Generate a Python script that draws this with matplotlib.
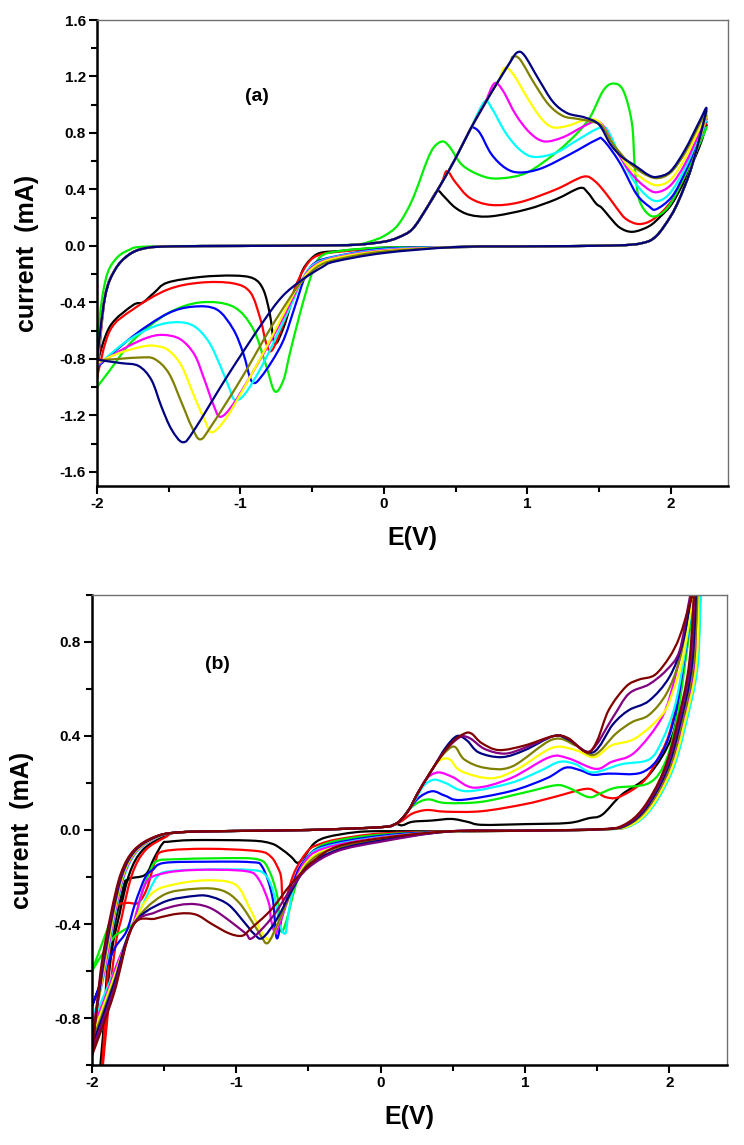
import matplotlib
matplotlib.use('Agg')
import matplotlib.pyplot as plt
from matplotlib.ticker import MultipleLocator, FormatStrFormatter
from matplotlib.path import Path
from matplotlib.patches import PathPatch

plt.rcParams['font.family'] = ['Liberation Sans', 'DejaVu Sans']
plt.rcParams['font.weight'] = 'bold'
plt.rcParams['axes.unicode_minus'] = False

# ---------------- panel (a) data : E (V), current (mA) ----------------
A_FWD_NEG = [(-1.944, -0.36), (-1.875, -0.17), (-1.78, -0.064), (-1.665, -0.016),
             (-1.48, -0.003), (-1.0, 0.0), (-0.5, 0.003), (-0.2, 0.008)]
A_GREEN_FWD_NEG = [(-1.99, -0.59), (-1.94, -0.24), (-1.875, -0.1), (-1.78, -0.03),
                   (-1.64, -0.004), (-1.0, 0.0), (-0.5, 0.003)]
A_RISE = [(0.0, 0.03), (0.1, 0.06), (0.2, 0.12), (0.3, 0.27), (0.4, 0.44), (0.5, 0.62),
          (0.6, 0.82), (0.7, 1.0), (0.8, 1.17), (0.88, 1.3)]
A_REV_POS = [(2.18, 0.68), (2.13, 0.51), (2.06, 0.33), (2.0, 0.21), (1.9, 0.07),
             (1.8, 0.02), (1.6, 0.003), (1.0, -0.003), (0.5, -0.008)]

A_BLACK_POS = [(0.35, 0.36), (0.38, 0.39), (0.42, 0.35), (0.5, 0.27), (0.6, 0.22), (0.75, 0.21),
               (1.0, 0.26), (1.2, 0.33), (1.366, 0.41), (1.42, 0.38), (1.48, 0.30), (1.52, 0.27),
               (1.57, 0.21), (1.645, 0.13), (1.735, 0.10), (1.85, 0.14), (1.93, 0.21),
               (2.01, 0.30), (2.1, 0.47), (2.2, 0.70), (2.25, 0.86)]
A_BLACK_NEG = [(0.0, -0.012), (-0.3, -0.035), (-0.446, -0.05), (-0.516, -0.1), (-0.565, -0.17),
               (-0.6, -0.27), (-0.65, -0.42), (-0.7, -0.58), (-0.76, -0.69), (-0.795, -0.48),
               (-0.84, -0.31), (-0.91, -0.23), (-1.05, -0.21), (-1.28, -0.22), (-1.51, -0.26),
               (-1.6, -0.33), (-1.68, -0.40), (-1.75, -0.42), (-1.91, -0.57), (-2.0, -0.83)]

A_RED_POS = [(0.44, 0.53), (0.5, 0.45), (0.6, 0.34), (0.75, 0.29), (0.95, 0.31), (1.2, 0.40),
             (1.39, 0.49), (1.47, 0.46), (1.55, 0.37), (1.63, 0.26), (1.69, 0.19), (1.78, 0.155),
             (1.88, 0.19), (2.0, 0.31), (2.1, 0.5), (2.2, 0.75), (2.25, 0.88)]
A_RED_NEG = [(0.0, -0.015), (-0.3, -0.04), (-0.42, -0.055), (-0.5, -0.09), (-0.56, -0.17),
             (-0.62, -0.3), (-0.7, -0.55), (-0.78, -0.74), (-0.82, -0.69), (-0.86, -0.52),
             (-0.93, -0.33), (-1.05, -0.265), (-1.28, -0.26), (-1.51, -0.31), (-1.75, -0.45),
             (-1.91, -0.6), (-2.0, -0.93)]

A_GREEN_POS = [(-0.2, 0.01), (-0.1, 0.03), (0.0, 0.07), (0.1, 0.15), (0.2, 0.33), (0.3, 0.6),
               (0.35, 0.7), (0.41, 0.74), (0.46, 0.7), (0.55, 0.57), (0.7, 0.49), (0.83, 0.48),
               (1.0, 0.52), (1.2, 0.66), (1.35, 0.8), (1.44, 0.915), (1.53, 1.1), (1.6, 1.15),
               (1.67, 1.1), (1.73, 0.87), (1.75, 0.56), (1.78, 0.33), (1.85, 0.22),
               (1.92, 0.22), (2.0, 0.3), (2.1, 0.5), (2.2, 0.72), (2.25, 0.84)]
A_GREEN_NEG = [(0.0, -0.012), (-0.3, -0.035), (-0.446, -0.08), (-0.516, -0.24), (-0.585, -0.48),
               (-0.655, -0.76), (-0.70, -0.95), (-0.76, -1.03), (-0.82, -0.85), (-0.91, -0.59),
               (-1.05, -0.43), (-1.28, -0.40), (-1.51, -0.48), (-1.75, -0.67), (-1.91, -0.88),
               (-2.0, -1.0)]

A_BLUE_POS = [(0.62, 0.84), (0.67, 0.8), (0.75, 0.65), (0.85, 0.55), (0.95, 0.52), (1.1, 0.55),
              (1.3, 0.65), (1.48, 0.75), (1.53, 0.75), (1.645, 0.59), (1.76, 0.37), (1.85, 0.28),
              (1.9, 0.26), (2.01, 0.35), (2.1, 0.52), (2.2, 0.76), (2.25, 0.9)]
A_BLUE_NEG = [(0.0, -0.02), (-0.34, -0.075), (-0.48, -0.12), (-0.55, -0.22), (-0.62, -0.43),
              (-0.71, -0.69), (-0.85, -0.92), (-0.92, -0.96), (-0.98, -0.76), (-1.05, -0.59),
              (-1.165, -0.45), (-1.33, -0.43), (-1.51, -0.48), (-1.75, -0.64), (-2.0, -0.86)]

A_CYAN_POS = [(0.7, 1.02), (0.75, 0.98), (0.85, 0.8), (0.95, 0.68), (1.05, 0.63), (1.2, 0.66),
              (1.35, 0.75), (1.5, 0.835), (1.56, 0.82), (1.65, 0.63), (1.75, 0.45), (1.85, 0.34),
              (1.92, 0.32), (2.0, 0.38), (2.1, 0.55), (2.2, 0.78), (2.25, 0.9)]
A_CYAN_NEG = [(0.0, -0.025), (-0.35, -0.08), (-0.5, -0.14), (-0.57, -0.24), (-0.63, -0.38),
              (-0.72, -0.58), (-0.85, -0.85), (-0.97, -1.05), (-1.04, -1.09), (-1.08, -1.0),
              (-1.14, -0.85), (-1.22, -0.68), (-1.32, -0.57), (-1.44, -0.54), (-1.6, -0.57),
              (-1.8, -0.68), (-2.0, -0.85)]

A_MAGENTA_POS = [(0.77, 1.15), (0.83, 1.1), (0.92, 0.93), (1.02, 0.8), (1.12, 0.74), (1.25, 0.77),
                 (1.38, 0.84), (1.47, 0.88), (1.53, 0.85), (1.62, 0.68), (1.72, 0.52), (1.82, 0.42),
                 (1.9, 0.38), (2.0, 0.43), (2.1, 0.58), (2.2, 0.8), (2.25, 0.92)]
A_MAGENTA_NEG = [(0.0, -0.03), (-0.35, -0.085), (-0.5, -0.15), (-0.58, -0.26), (-0.65, -0.4),
                 (-0.75, -0.6), (-0.9, -0.87), (-1.05, -1.12), (-1.14, -1.21), (-1.19, -1.12),
                 (-1.25, -0.95), (-1.32, -0.77), (-1.42, -0.66), (-1.54, -0.63), (-1.65, -0.65),
                 (-1.8, -0.72), (-2.0, -0.84)]

A_YELLOW_POS = [(0.84, 1.26), (0.9, 1.22), (1.0, 1.05), (1.1, 0.9), (1.18, 0.84), (1.28, 0.85),
                (1.4, 0.89), (1.5, 0.88), (1.6, 0.72), (1.7, 0.57), (1.8, 0.48), (1.9, 0.43),
                (2.0, 0.47), (2.1, 0.62), (2.2, 0.83), (2.25, 0.93)]
A_YELLOW_NEG = [(0.0, -0.035), (-0.35, -0.09), (-0.5, -0.16), (-0.6, -0.29), (-0.68, -0.44),
                (-0.8, -0.68), (-0.95, -0.96), (-1.1, -1.22), (-1.2, -1.32), (-1.25, -1.23),
                (-1.32, -1.07), (-1.41, -0.85), (-1.5, -0.74), (-1.58, -0.71), (-1.67, -0.71),
                (-1.85, -0.76), (-2.0, -0.83)]

A_OLIVE_POS = [(0.9, 1.34), (0.95, 1.32), (1.05, 1.15), (1.15, 1.0), (1.25, 0.92), (1.35, 0.9),
               (1.45, 0.88), (1.52, 0.85), (1.6, 0.72), (1.7, 0.6), (1.8, 0.52), (1.9, 0.48),
               (2.0, 0.52), (2.1, 0.66), (2.2, 0.86), (2.25, 0.95)]
A_OLIVE_NEG = [(0.0, -0.04), (-0.3, -0.09), (-0.45, -0.14), (-0.57, -0.25), (-0.65, -0.36),
               (-0.8, -0.6), (-1.0, -0.95), (-1.2, -1.27), (-1.28, -1.37), (-1.34, -1.28),
               (-1.41, -1.11), (-1.5, -0.9), (-1.6, -0.8), (-1.7, -0.79), (-1.85, -0.8),
               (-2.0, -0.81)]

A_NAVY_POS = [(0.93, 1.37), (0.98, 1.35), (1.08, 1.18), (1.18, 1.02), (1.28, 0.94), (1.4, 0.91),
              (1.5, 0.86), (1.58, 0.72), (1.66, 0.63), (1.75, 0.57), (1.85, 0.5), (1.91, 0.49),
              (2.0, 0.53), (2.1, 0.68), (2.2, 0.88), (2.25, 0.97)]
A_NAVY_NEG = [(0.0, -0.05), (-0.34, -0.11), (-0.43, -0.15), (-0.57, -0.24), (-0.71, -0.36),
              (-0.85, -0.55), (-1.09, -0.92), (-1.32, -1.30), (-1.40, -1.39), (-1.48, -1.30),
              (-1.55, -1.14), (-1.62, -0.95), (-1.71, -0.85), (-1.83, -0.83), (-1.97, -0.81),
              (-2.0, -0.8)]

A_COLORS = ['#000000', '#ff0000', '#00ee00', '#0000ff', '#00ffff', '#ff00ff',
            '#ffff00', '#808000', '#000080']
A_FWD = [A_FWD_NEG, A_FWD_NEG, A_GREEN_FWD_NEG, A_FWD_NEG, A_FWD_NEG, A_FWD_NEG,
         A_FWD_NEG, A_FWD_NEG, A_FWD_NEG]
A_POS = [A_BLACK_POS, A_RED_POS, A_GREEN_POS, A_BLUE_POS, A_CYAN_POS, A_MAGENTA_POS,
         A_YELLOW_POS, A_OLIVE_POS, A_NAVY_POS]
A_NEG = [A_BLACK_NEG, A_RED_NEG, A_GREEN_NEG, A_BLUE_NEG, A_CYAN_NEG, A_MAGENTA_NEG,
         A_YELLOW_NEG, A_OLIVE_NEG, A_NAVY_NEG]

# ---------------- panel (b) data ----------------
B_FWD_NEG = [(-1.93, -0.6), (-1.86, -0.36), (-1.79, -0.185), (-1.7, -0.086), (-1.56, -0.03),
             (-1.4, -0.01), (-1.0, -0.004), (-0.5, 0.0), (0.0, 0.012), (0.1, 0.025)]
B_REV_POS = [(2.18, 0.72), (2.09, 0.44), (2.0, 0.25), (1.86, 0.094), (1.72, 0.02),
             (1.55, 0.003), (1.0, -0.003), (0.5, -0.006)]

B_BLACK_POS = [(0.15, 0.02), (0.22, 0.035), (0.35, 0.04), (0.49, 0.047), (0.6, 0.035), (0.7, 0.022),
               (1.0, 0.025), (1.3, 0.03), (1.44, 0.05), (1.535, 0.065), (1.67, 0.15), (1.86, 0.235),
               (2.02, 0.4), (2.08, 0.6), (2.13, 0.85), (2.16, 1.02), (2.2, 1.15)]
B_BLACK_NEG = [(0.0, -0.005), (-0.18, -0.01), (-0.37, -0.03), (-0.46, -0.057), (-0.53, -0.114),
               (-0.575, -0.14), (-0.62, -0.114), (-0.69, -0.08), (-0.76, -0.057), (-0.9, -0.045),
               (-1.3, -0.043), (-1.47, -0.05), (-1.51, -0.057), (-1.57, -0.12), (-1.63, -0.19),
               (-1.75, -0.21), (-1.79, -0.26), (-1.89, -0.57), (-1.93, -1.0), (-2.0, -1.4)]

B_RED_POS = [(0.15, 0.04), (0.22, 0.07), (0.32, 0.085), (0.45, 0.078), (0.7, 0.08), (1.0, 0.11),
             (1.2, 0.14), (1.42, 0.175), (1.5, 0.16), (1.56, 0.14), (1.65, 0.14), (1.81, 0.2),
             (1.9, 0.28), (2.0, 0.41), (2.08, 0.63), (2.14, 0.86), (2.18, 1.02), (2.21, 1.15)]
B_RED_NEG = [(0.0, -0.015), (-0.3, -0.04), (-0.42, -0.06), (-0.5, -0.086), (-0.59, -0.17),
             (-0.64, -0.26), (-0.66, -0.32), (-0.68, -0.29), (-0.69, -0.2), (-0.715, -0.157),
             (-0.76, -0.114), (-0.85, -0.09), (-1.2, -0.08), (-1.5, -0.09), (-1.56, -0.13),
             (-1.62, -0.25), (-1.68, -0.31), (-1.75, -0.31), (-1.82, -0.32), (-1.86, -0.38),
             (-1.89, -0.6), (-1.93, -1.0), (-2.0, -1.5)]

B_GREEN_POS = [(0.15, 0.05), (0.2, 0.09), (0.27, 0.12), (0.34, 0.13), (0.45, 0.115), (0.7, 0.12),
               (1.0, 0.16), (1.21, 0.19), (1.3, 0.18), (1.44, 0.14), (1.52, 0.155), (1.63, 0.18),
               (1.86, 0.2), (1.98, 0.3), (2.06, 0.5), (2.13, 0.8), (2.18, 1.02), (2.22, 1.15)]
B_GREEN_NEG = [(0.0, -0.02), (-0.3, -0.045), (-0.45, -0.08), (-0.54, -0.15), (-0.6, -0.26),
               (-0.65, -0.38), (-0.69, -0.43), (-0.715, -0.285), (-0.775, -0.17), (-0.85, -0.125),
               (-1.1, -0.12), (-1.45, -0.125), (-1.54, -0.13), (-1.585, -0.157), (-1.65, -0.26),
               (-1.71, -0.39), (-1.79, -0.43), (-1.84, -0.45), (-1.91, -0.51), (-2.0, -0.6)]

B_BLUE_POS = [(0.15, 0.05), (0.2, 0.09), (0.27, 0.14), (0.36, 0.165), (0.45, 0.145), (0.56, 0.128),
              (0.9, 0.165), (1.15, 0.22), (1.28, 0.265), (1.38, 0.255), (1.47, 0.235), (1.58, 0.24),
              (1.81, 0.245), (1.95, 0.33), (2.04, 0.49), (2.11, 0.75), (2.17, 1.02), (2.21, 1.15)]
B_BLUE_NEG = [(0.0, -0.025), (-0.4, -0.07), (-0.54, -0.14), (-0.61, -0.23), (-0.68, -0.36),
              (-0.72, -0.46), (-0.75, -0.285), (-0.82, -0.157), (-0.9, -0.137), (-1.2, -0.135),
              (-1.5, -0.14), (-1.58, -0.17), (-1.63, -0.2), (-1.7, -0.31), (-1.76, -0.43),
              (-1.84, -0.5), (-1.91, -0.6), (-2.0, -0.75)]

B_CYAN_POS = [(0.15, 0.05), (0.2, 0.09), (0.26, 0.15), (0.3, 0.19), (0.37, 0.214), (0.45, 0.2),
              (0.6, 0.165), (0.9, 0.2), (1.1, 0.25), (1.24, 0.29), (1.35, 0.28), (1.47, 0.245),
              (1.67, 0.28), (1.86, 0.3), (1.95, 0.38), (2.04, 0.53), (2.11, 0.76), (2.17, 1.02),
              (2.21, 1.15)]
B_CYAN_NEG = [(0.0, -0.03), (-0.4, -0.075), (-0.52, -0.13), (-0.6, -0.24), (-0.64, -0.36),
              (-0.66, -0.44), (-0.7, -0.4), (-0.74, -0.27), (-0.8, -0.19), (-0.9, -0.17),
              (-1.2, -0.168), (-1.45, -0.175), (-1.55, -0.2), (-1.65, -0.32), (-1.73, -0.42),
              (-1.8, -0.53), (-1.9, -0.68), (-2.0, -0.82)]

B_MAGENTA_POS = [(0.15, 0.05), (0.2, 0.09), (0.26, 0.16), (0.32, 0.22), (0.4, 0.245), (0.5, 0.225),
                 (0.65, 0.18), (0.9, 0.22), (1.17, 0.31), (1.3, 0.305), (1.49, 0.26), (1.6, 0.29),
                 (1.76, 0.33), (1.95, 0.48), (2.04, 0.65), (2.11, 0.85), (2.16, 1.02), (2.2, 1.15)]
B_MAGENTA_NEG = [(0.0, -0.032), (-0.4, -0.08), (-0.53, -0.14), (-0.62, -0.26), (-0.7, -0.4),
                 (-0.73, -0.44), (-0.76, -0.38), (-0.775, -0.31), (-0.845, -0.21), (-0.935, -0.175),
                 (-1.28, -0.17), (-1.515, -0.186), (-1.63, -0.23), (-1.72, -0.41), (-1.82, -0.56),
                 (-1.9, -0.7), (-2.0, -0.85)]

B_YELLOW_POS = [(0.15, 0.05), (0.2, 0.09), (0.26, 0.16), (0.32, 0.22), (0.37, 0.27), (0.42, 0.3),
                (0.48, 0.3), (0.56, 0.25), (0.77, 0.22), (0.95, 0.26), (1.19, 0.35), (1.35, 0.34),
                (1.48, 0.31), (1.6, 0.36), (1.765, 0.39), (1.95, 0.49), (2.02, 0.58), (2.09, 0.72),
                (2.14, 0.9), (2.17, 1.02), (2.2, 1.15)]
B_YELLOW_NEG = [(0.0, -0.035), (-0.35, -0.08), (-0.5, -0.13), (-0.6, -0.23), (-0.72, -0.41),
                (-0.77, -0.465), (-0.82, -0.44), (-0.87, -0.38), (-0.91, -0.33), (-1.0, -0.235),
                (-1.17, -0.214), (-1.4, -0.228), (-1.585, -0.27), (-1.72, -0.41), (-1.85, -0.63),
                (-2.0, -0.88)]

B_OLIVE_POS = [(0.15, 0.05), (0.2, 0.09), (0.26, 0.16), (0.32, 0.22), (0.37, 0.27), (0.43, 0.32),
               (0.51, 0.355), (0.58, 0.3), (0.72, 0.265), (0.91, 0.27), (1.19, 0.385), (1.35, 0.36),
               (1.48, 0.32), (1.63, 0.41), (1.745, 0.46), (1.86, 0.49), (1.98, 0.58), (2.07, 0.72),
               (2.12, 0.88), (2.16, 1.02), (2.2, 1.15)]
B_OLIVE_NEG = [(0.0, -0.04), (-0.35, -0.085), (-0.5, -0.14), (-0.6, -0.24), (-0.7, -0.38),
               (-0.78, -0.48), (-0.83, -0.45), (-0.87, -0.41), (-0.98, -0.31), (-1.1, -0.257),
               (-1.28, -0.25), (-1.515, -0.28), (-1.72, -0.41), (-1.85, -0.65), (-2.0, -0.9)]

B_NAVY_POS = [(0.15, 0.05), (0.2, 0.09), (0.26, 0.16), (0.32, 0.22), (0.37, 0.27), (0.45, 0.35),
              (0.53, 0.4), (0.6, 0.38), (0.68, 0.33), (0.84, 0.31), (1.0, 0.34), (1.2, 0.4),
              (1.3, 0.385), (1.47, 0.33), (1.61, 0.45), (1.72, 0.51), (1.86, 0.55), (2.0, 0.65),
              (2.09, 0.79), (2.14, 0.95), (2.16, 1.02), (2.19, 1.15)]
B_NAVY_NEG = [(0.0, -0.045), (-0.3, -0.085), (-0.5, -0.15), (-0.6, -0.24), (-0.72, -0.38),
              (-0.82, -0.46), (-0.88, -0.44), (-0.935, -0.40), (-1.05, -0.32), (-1.17, -0.285),
              (-1.28, -0.28), (-1.515, -0.31), (-1.72, -0.41), (-1.85, -0.66), (-2.0, -0.92)]

B_PURPLE_POS = [(0.15, 0.05), (0.2, 0.09), (0.26, 0.16), (0.32, 0.22), (0.37, 0.27), (0.45, 0.34),
                (0.55, 0.395), (0.62, 0.39), (0.72, 0.345), (0.86, 0.325), (1.0, 0.35), (1.2, 0.4),
                (1.3, 0.39), (1.45, 0.335), (1.61, 0.48), (1.72, 0.58), (1.86, 0.62), (1.98, 0.68),
                (2.07, 0.76), (2.13, 0.95), (2.15, 1.02), (2.18, 1.15)]
B_PURPLE_NEG = [(0.0, -0.05), (-0.3, -0.09), (-0.5, -0.16), (-0.62, -0.25), (-0.75, -0.37),
                (-0.89, -0.46), (-0.935, -0.44), (-1.05, -0.385), (-1.17, -0.335), (-1.28, -0.316),
                (-1.4, -0.32), (-1.56, -0.35), (-1.72, -0.41), (-1.85, -0.68), (-2.0, -0.94)]

B_MAROON_POS = [(0.15, 0.05), (0.2, 0.09), (0.26, 0.16), (0.37, 0.27), (0.49, 0.37), (0.58, 0.41),
                (0.63, 0.41), (0.7, 0.37), (0.82, 0.34), (1.0, 0.36), (1.2, 0.4), (1.3, 0.39),
                (1.43, 0.33), (1.5, 0.38), (1.58, 0.51), (1.7, 0.61), (1.79, 0.64), (1.9, 0.66),
                (2.0, 0.735), (2.07, 0.82), (2.14, 0.96), (2.16, 1.02), (2.18, 1.15)]
B_MAROON_NEG = [(0.0, -0.035), (-0.3, -0.07), (-0.46, -0.13), (-0.62, -0.23), (-0.76, -0.34),
                (-0.9, -0.42), (-0.96, -0.45), (-1.05, -0.44), (-1.17, -0.40), (-1.28, -0.36),
                (-1.40, -0.356), (-1.56, -0.377), (-1.72, -0.41), (-1.85, -0.7), (-2.0, -0.96)]

B_COLORS = ['#000000', '#ff0000', '#00ee00', '#0000ff', '#00ffff', '#ff00ff',
            '#ffff00', '#808000', '#000080', '#800080', '#800000']
B_POS = [B_BLACK_POS, B_RED_POS, B_GREEN_POS, B_BLUE_POS, B_CYAN_POS, B_MAGENTA_POS,
         B_YELLOW_POS, B_OLIVE_POS, B_NAVY_POS, B_PURPLE_POS, B_MAROON_POS]
B_NEG = [B_BLACK_NEG, B_RED_NEG, B_GREEN_NEG, B_BLUE_NEG, B_CYAN_NEG, B_MAGENTA_NEG,
         B_YELLOW_NEG, B_OLIVE_NEG, B_NAVY_NEG, B_PURPLE_NEG, B_MAROON_NEG]
# potential offsets (V) of each trace's steep solvent-limit branches, read from the fans
B_REV_SHIFT = [-0.01, 0.0, 0.015, 0.0, 0.02, 0.005, 0.01, -0.01, -0.02, -0.03, -0.04]
B_FWD_SHIFT = [0.05, 0.07, 0.0, 0.015, 0.02, 0.015, 0.01, 0.005, 0.0, -0.005, -0.01]

# ---------------- figure ----------------
fig = plt.figure(figsize=(7.44, 11.45), dpi=100)
axA = fig.add_axes([97 / 744, 1 - 486 / 1145, (728 - 97) / 744, (486 - 20) / 1145])
axB = fig.add_axes([92 / 744, 1 - 1065 / 1145, (727 - 92) / 744, (1065 - 595) / 1145])

LW = 1.6


def loop_a(fwd, pos, neg):
    start = neg[-1]
    rise = [p for p in A_RISE if p[0] < pos[0][0]]
    return [start] + fwd + rise + pos + A_REV_POS + neg


def loop_b(pos, neg, rshift, fshift):
    start = neg[-1]
    fwd = [(e + fshift if e < -1.4 else e, i) for e, i in B_FWD_NEG if i > start[1] + 0.1]
    rev = [(e + rshift, i) for e, i in B_REV_POS]
    return [start] + fwd + pos + rev + neg


def draw_smooth(ax, pts, color):
    """Draw a curve through the read points using cubic Bezier segments
    (Catmull-Rom tangents) so that the trace renders smoothly, like the original."""
    n = len(pts)
    verts = [pts[0]]
    codes = [Path.MOVETO]
    for k in range(n - 1):
        p0 = pts[k - 1] if k > 0 else pts[k]
        p1 = pts[k]
        p2 = pts[k + 1]
        p3 = pts[k + 2] if k + 2 < n else pts[k + 1]
        c1 = (p1[0] + (p2[0] - p0[0]) / 6.0, p1[1] + (p2[1] - p0[1]) / 6.0)
        c2 = (p2[0] - (p3[0] - p1[0]) / 6.0, p2[1] - (p3[1] - p1[1]) / 6.0)
        verts += [c1, c2, p2]
        codes += [Path.CURVE4, Path.CURVE4, Path.CURVE4]
    patch = PathPatch(Path(verts, codes), facecolor='none', edgecolor=color, lw=LW,
                      joinstyle='round', capstyle='round')
    ax.add_patch(patch)


for c, f, p, n in zip(A_COLORS, A_FWD, A_POS, A_NEG):
    draw_smooth(axA, loop_a(f, p, n), c)

for c, p, n, rs, fs in zip(B_COLORS, B_POS, B_NEG, B_REV_SHIFT, B_FWD_SHIFT):
    draw_smooth(axB, loop_b(p, n, rs, fs), c)


def style(ax, ylim, ymajor):
    ax.set_xlim(-2, 2.4)
    ax.set_ylim(*ylim)
    ax.xaxis.set_major_locator(MultipleLocator(1))
    ax.xaxis.set_minor_locator(MultipleLocator(0.5))
    ax.yaxis.set_major_locator(MultipleLocator(ymajor))
    ax.yaxis.set_minor_locator(MultipleLocator(ymajor / 2))
    ax.xaxis.set_major_formatter(FormatStrFormatter('%d'))
    ax.yaxis.set_major_formatter(FormatStrFormatter('%.1f'))
    ax.tick_params(which='both', direction='out', top=False, right=False, width=1.5)
    ax.tick_params(which='major', length=6, labelsize=11, pad=2)
    ax.tick_params(which='minor', length=4)
    for lab in ax.get_xticklabels() + ax.get_yticklabels():
        lab.set_fontweight('bold')
    for s in ('left', 'bottom'):
        ax.spines[s].set_linewidth(1.8)
        ax.spines[s].set_color('black')
    for s in ('top', 'right'):
        ax.spines[s].set_linewidth(1.0)
        ax.spines[s].set_color('#707070')
    ax.set_xlabel('E(V)', fontsize=18, fontweight='bold', labelpad=11)
    ax.set_ylabel('current  (mA)', fontsize=18, fontweight='bold', labelpad=15)


style(axA, (-1.7, 1.6), 0.4)
style(axB, (-1.0, 1.0), 0.4)

axA.text(-0.885, 1.055, '(a)', fontsize=14, fontweight='bold', ha='center', va='center')
axB.text(-1.13, 0.706, '(b)', fontsize=14, fontweight='bold', ha='center', va='center')

fig.savefig('out.png', dpi=100, facecolor='white')
